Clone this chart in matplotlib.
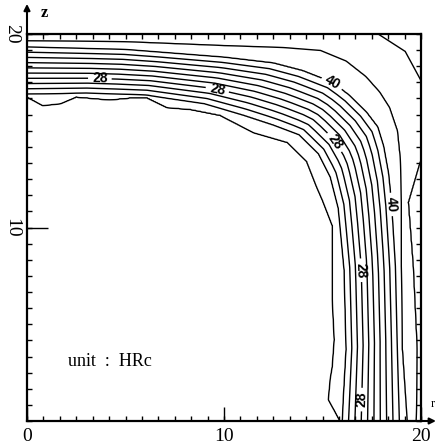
import numpy as np
import matplotlib
matplotlib.use("Agg")
import matplotlib.pyplot as plt

# ---- data: hardness isolines (HRc), positions in (r, z) ----
levels = [20, 22, 24, 26, 28, 30, 32, 34, 36, 38, 40, 42, 44]
label_levels = [28, 40]

# anchor isolines (r, z) from the bottom edge (z=0) to the left edge (r=0)
h20_r = [15.9, 15.3, 15.4, 15.5, 15.6, 15.5, 15.5, 15.5, 15.0, 14.7, 14.2, 13.2, 11.5, 9.8, 8.8, 8.3, 7.1, 6.1, 5.2, 4.2, 2.5, 1.7, 0.8, 0.0]
h20_z = [0.0, 1.1, 2.2, 2.8, 4.2, 6.3, 8.9, 10.1, 11.4, 12.1, 13.4, 14.4, 14.9, 15.8, 16.0, 16.1, 16.2, 16.7, 16.7, 16.6, 16.75, 16.4, 16.3, 16.75]

h22_r = [16.0, 16.2, 16.1, 15.8, 15.4, 14.8, 13.8, 12.5, 11.0, 9.0, 6.0, 3.0, 0.0]
h22_z = [0.0, 3.7, 7.8, 11.0, 12.6, 13.8, 14.8, 15.3, 15.8, 16.4, 16.85, 16.95, 16.9]

h40_r = [18.9, 18.8, 18.7, 18.5, 18.35, 18.1, 17.8, 17.2, 16.4, 15.5, 14.0, 12.5, 10.0, 5.0, 0.0]
h40_z = [0.0, 3.7, 8.0, 11.3, 12.8, 14.2, 15.2, 16.0, 16.8, 17.5, 18.1, 18.5, 18.8, 19.2, 19.33]

h42_r = [19.3, 19.05, 19.0, 19.0, 18.95, 18.8, 18.4, 17.9, 17.2, 16.2, 14.9, 13.0, 10.0, 5.0, 0.0]
h42_z = [0.0, 3.7, 8.0, 11.3, 13.5, 15.0, 16.2, 17.0, 17.8, 18.6, 19.15, 19.3, 19.4, 19.6, 19.65]

h44_r = [19.75, 19.8, 19.6, 19.35, 19.9, 20.5, 20.05, 19.2, 17.75, 14.0, 8.0, 0.0]
h44_z = [0.0, 3.7, 8.0, 11.3, 13.2, 15.0, 17.5, 19.1, 20.05, 20.3, 20.3, 20.3]

anchor_levels = [20, 22, 40, 42, 44]
anchors = [(h20_r, h20_z), (h22_r, h22_z), (h40_r, h40_z), (h42_r, h42_z), (h44_r, h44_z)]

xticks = [0, 10, 20]
yticks = [10, 20]

# ---- build hardness field by interpolating between isolines along rays from the origin ----
n = 401
gx = np.linspace(0, 20, n)
gz = np.linspace(0, 20, n)
X, Z = np.meshgrid(gx, gz)
TH = np.degrees(np.arctan2(Z, X))
RHO = np.hypot(X, Z)

def densify(rs, zs, k=25):
    rs = np.asarray(rs, float)
    zs = np.asarray(zs, float)
    t = np.arange(len(rs))
    tt = np.linspace(0, len(rs) - 1, (len(rs) - 1) * k + 1)
    return np.interp(tt, t, rs), np.interp(tt, t, zs)

def ray_profile(rs, zs, theta):
    rs, zs = densify(rs, zs)
    th = np.degrees(np.arctan2(zs, rs))
    rho = np.hypot(rs, zs)
    o = np.argsort(th)
    return np.interp(theta, th[o], rho[o])

R = [np.zeros_like(RHO)]
Hs = [0.0]
prev = R[0]
for lev, (rs, zs) in zip(anchor_levels, anchors):
    p = np.maximum(ray_profile(rs, zs, TH), prev + 0.02)
    R.append(p)
    Hs.append(lev)
    prev = p
R.append(np.maximum(np.full_like(RHO, 60.0), prev + 1))
Hs.append(80.0)

H = np.full_like(RHO, Hs[-1])
for k in range(len(R) - 1):
    m = (RHO >= R[k]) & (RHO < R[k + 1])
    H[m] = Hs[k] + (Hs[k + 1] - Hs[k]) * (RHO[m] - R[k][m]) / (R[k + 1][m] - R[k][m])

# ---- plot ----
fig = plt.figure(figsize=(4.39, 4.47), dpi=100)
ax = fig.add_axes([27 / 439, 1 - 421 / 447, 394 / 439, 387 / 447])

plain_levels = [v for v in levels if v not in label_levels]
ax.contour(X, Z, H, levels=plain_levels, colors="k", linewidths=1.0)
cs_lab = ax.contour(X, Z, H, levels=label_levels, colors="k", linewidths=1.0)
label_pos = [(3.7, 17.75), (9.7, 17.3), (15.5, 17.5), (15.6, 14.4), (18.6, 11.2), (17.2, 7.8), (17.2, 1.1)]
lbls = ax.clabel(cs_lab, manual=label_pos, fmt="%d", fontsize=10, inline=True, inline_spacing=3)
for t in lbls:
    t.set_fontweight("bold")
    t.set_family("Liberation Sans")

ax.set_xlim(0, 20)
ax.set_ylim(0, 20)
ax.set_xticks(xticks)
ax.set_yticks(yticks)
minor = np.linspace(0, 20, 25)
ax.set_xticks(minor, minor=True)
ax.set_yticks(minor, minor=True)
ax.xaxis.remove_overlapping_locs = False
ax.yaxis.remove_overlapping_locs = False
ax.set_xticklabels([str(v) for v in xticks], fontfamily="Liberation Serif", fontsize=14)
ax.set_yticklabels([str(v) for v in yticks], fontfamily="Liberation Serif", fontsize=14,
                   rotation=-90, va="center")
ax.tick_params(which="both", direction="in", width=1.0)
ax.tick_params(which="minor", length=3.5, top=True, right=True)
ax.tick_params(which="major", top=False, right=False)
ax.tick_params(axis="x", which="major", length=10, pad=5)
ax.tick_params(axis="y", which="major", length=15, pad=5)
for s in ax.spines.values():
    s.set_linewidth(1.6)

ax.annotate("", xy=(0, 1.085), xytext=(0, 0.99), xycoords="axes fraction",
            arrowprops=dict(arrowstyle="-|>", lw=1.5, color="k", mutation_scale=9))
ax.annotate("", xy=(1.045, 0), xytext=(0.99, 0), xycoords="axes fraction",
            arrowprops=dict(arrowstyle="-|>", lw=1.5, color="k", mutation_scale=9))
ax.text(0.043, 1.055, "z", transform=ax.transAxes, fontsize=12, fontweight="bold",
        fontfamily="Liberation Serif", ha="center", va="center")
ax.text(1.03, 0.045, "r", transform=ax.transAxes, fontsize=9,
        fontfamily="Liberation Serif", ha="center", va="center")
ax.text(2.1, 3.1, "unit  :  HRc", fontsize=13, fontfamily="Liberation Serif",
        ha="left", va="center")

fig.savefig("out.png", dpi=100)
